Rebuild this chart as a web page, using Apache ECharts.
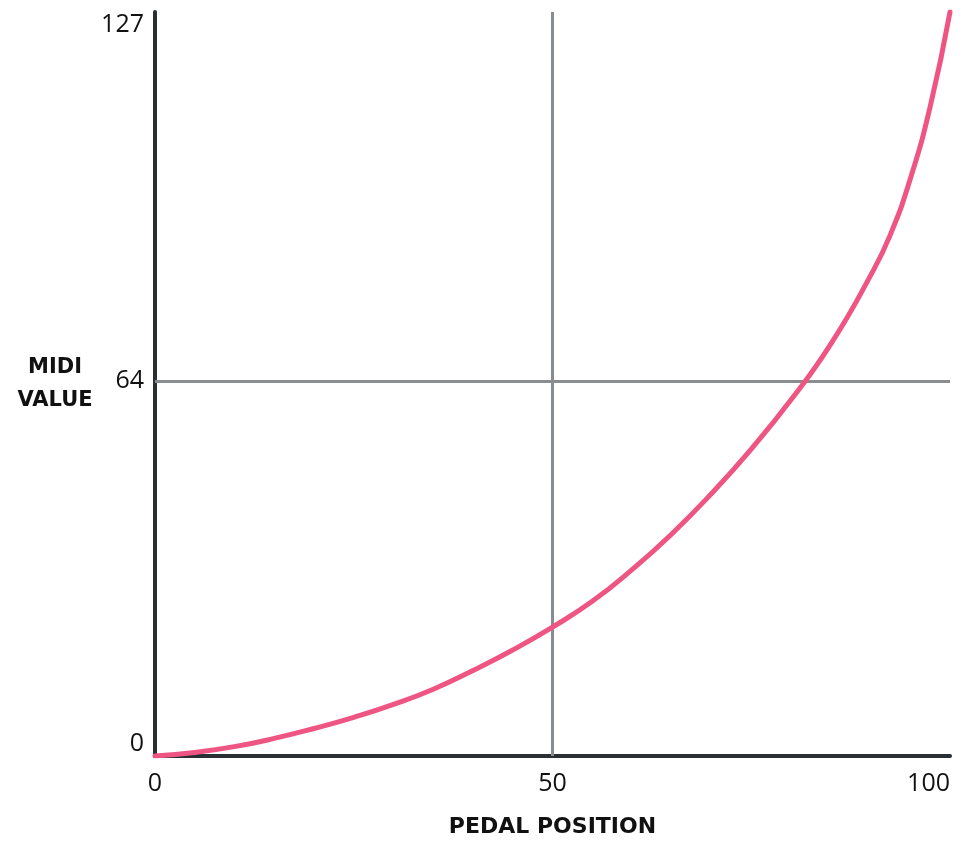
<!DOCTYPE html>
<html>
<head>
<meta charset="utf-8">
<script src="https://cdn.jsdelivr.net/npm/echarts@6/dist/echarts.min.js"></script>
<style>html,body{margin:0;padding:0;background:#fff}#c{width:961px;height:843px}</style>
</head>
<body>
<div id="c"></div>
<script>
// Pedal position (x) and resulting MIDI value (y)
var pedalPos  = [0, 5, 10, 15, 20, 25, 30, 35, 40, 45, 50, 55, 60, 65, 70, 75, 80, 85, 90, 92.5, 95, 97.5, 100];
var midiValue = [0, 0.6, 1.6, 3.0, 4.7, 6.6, 8.8, 11.4, 14.6, 18.1, 22.0, 26.4, 31.8, 37.9, 44.8, 52.4, 60.8, 70.3, 82.0, 89.0, 98.5, 110.8, 127];
var xTicks = [0, 50, 100];
var yTicks = [0, 64, 127];
var xName = 'PEDAL POSITION';
var yName = 'MIDI\nVALUE';

var chart = echarts.init(document.getElementById('c'), null, {renderer: 'canvas'});
var pts = pedalPos.map(function (x, i) { return [x, midiValue[i]]; });
var axisColor = '#2a2f33';
var gridColor = '#8a8d8f';
var labelFont = '"Open Sans", "Noto Sans", sans-serif';
var nameFont = '"DejaVu Sans", "Open Sans", sans-serif';

chart.setOption({
  animation: false,
  backgroundColor: '#ffffff',
  grid: {left: 155, right: 11, top: 12, bottom: 86, containLabel: false},
  xAxis: {
    type: 'value', min: 0, max: 100,
    name: xName, nameLocation: 'middle', nameGap: 60,
    nameTextStyle: {fontFamily: nameFont, fontWeight: 'bold', fontSize: 22, color: '#111'},
    axisLine: {show: true, lineStyle: {color: axisColor, width: 4}},
    axisTick: {show: false},
    splitLine: {show: false},
    axisLabel: {
      customValues: xTicks, margin: 15, fontFamily: labelFont, fontSize: 25, color: '#111',
      alignMaxLabel: 'right'
    }
  },
  yAxis: {
    type: 'value', min: 0, max: 127,
    name: yName, nameLocation: 'middle', nameRotate: 0, nameGap: 100,
    nameTextStyle: {fontFamily: nameFont, fontWeight: 'bold', fontSize: 21, color: '#111', align: 'center', lineHeight: 33, padding: [8, 0, 0, 0]},
    axisLine: {show: true, onZero: false, lineStyle: {color: axisColor, width: 4}},
    axisTick: {show: false},
    splitLine: {show: false},
    axisLabel: {
      customValues: yTicks, margin: 11, fontFamily: labelFont, fontSize: 25, color: '#111',
      verticalAlignMaxLabel: 'top', verticalAlignMinLabel: 'bottom'
    }
  },
  series: [
    {
      type: 'line', data: pts, smooth: 0.5, showSymbol: false,
      lineStyle: {color: '#ef5582', width: 5, cap: 'round'},
      z: 5,
      markLine: {
        silent: true, symbol: 'none', label: {show: false},
        lineStyle: {color: gridColor, width: 3, type: 'solid'},
        data: [{xAxis: xTicks[1]}, {yAxis: yTicks[1]}],
        z: 1
      }
    }
  ]
});
</script>
</body>
</html>
